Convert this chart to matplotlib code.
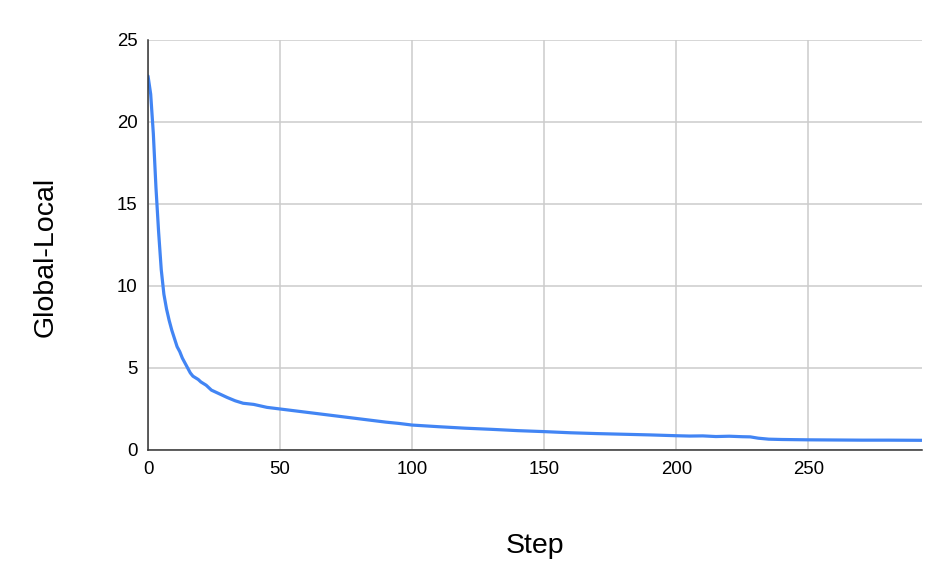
import matplotlib
matplotlib.use('Agg')
import matplotlib.pyplot as plt

# steps and Global-Local values
steps = [0, 1, 2, 3, 4, 5, 6, 7, 8, 9, 10, 11, 12, 13, 14, 15, 16, 17, 18, 19, 20,
         22, 24, 26, 28, 30, 33, 36, 40, 45, 50, 55, 60, 65, 70, 75, 80, 85, 90, 95,
         100, 110, 120, 130, 140, 150, 160, 170, 180, 190, 200, 205, 210, 215, 220,
         225, 228, 231, 235, 240, 250, 260, 270, 280, 293]
values = [22.8, 21.7, 19.3, 16.0, 13.3, 11.0, 9.5, 8.6, 7.9, 7.3, 6.8, 6.3, 6.0, 5.6,
          5.3, 5.0, 4.7, 4.5, 4.4, 4.3, 4.15, 3.95, 3.65, 3.5, 3.35, 3.2, 3.0, 2.85,
          2.78, 2.6, 2.5, 2.4, 2.3, 2.2, 2.1, 2.0, 1.9, 1.8, 1.7, 1.62, 1.52, 1.42,
          1.33, 1.26, 1.18, 1.12, 1.05, 1.0, 0.96, 0.92, 0.87, 0.85, 0.86, 0.82, 0.84,
          0.81, 0.80, 0.72, 0.66, 0.64, 0.62, 0.61, 0.60, 0.60, 0.59]
x_ticks = [0, 50, 100, 150, 200, 250]
y_ticks = [0, 5, 10, 15, 20, 25]

plt.rcParams['font.family'] = ['Liberation Sans', 'DejaVu Sans']

fig = plt.figure(figsize=(9.52, 5.88), dpi=100)
ax = fig.add_axes([0.1555, 0.2347, 0.813, 0.6973])

ax.plot(steps, values, color='#4285F4', linewidth=2.3, solid_joinstyle='round',
        solid_capstyle='round')

ax.set_xlim(0, 293)
ax.set_ylim(0, 25)
ax.set_xticks(x_ticks)
ax.set_yticks(y_ticks)
ax.grid(True, color='#cccccc', linewidth=1.1)
ax.set_axisbelow(True)
ax.tick_params(length=0, labelsize=13.4, colors='#000000')
ax.tick_params(axis='y', pad=7.5)
ax.tick_params(axis='x', pad=8)

for s in ['top', 'right']:
    ax.spines[s].set_visible(False)
for s in ['left', 'bottom']:
    ax.spines[s].set_color('#333333')
    ax.spines[s].set_linewidth(1.1)

ax.set_xlabel('Step', fontsize=20.5)
ax.set_ylabel('Global-Local', fontsize=20.5)
ax.xaxis.label.set_va('center')
ax.yaxis.label.set_va('center')
ax.xaxis.set_label_coords(0.5, -0.234)
ax.yaxis.set_label_coords(-0.1318, 0.47)

fig.savefig('out.png', dpi=100)
